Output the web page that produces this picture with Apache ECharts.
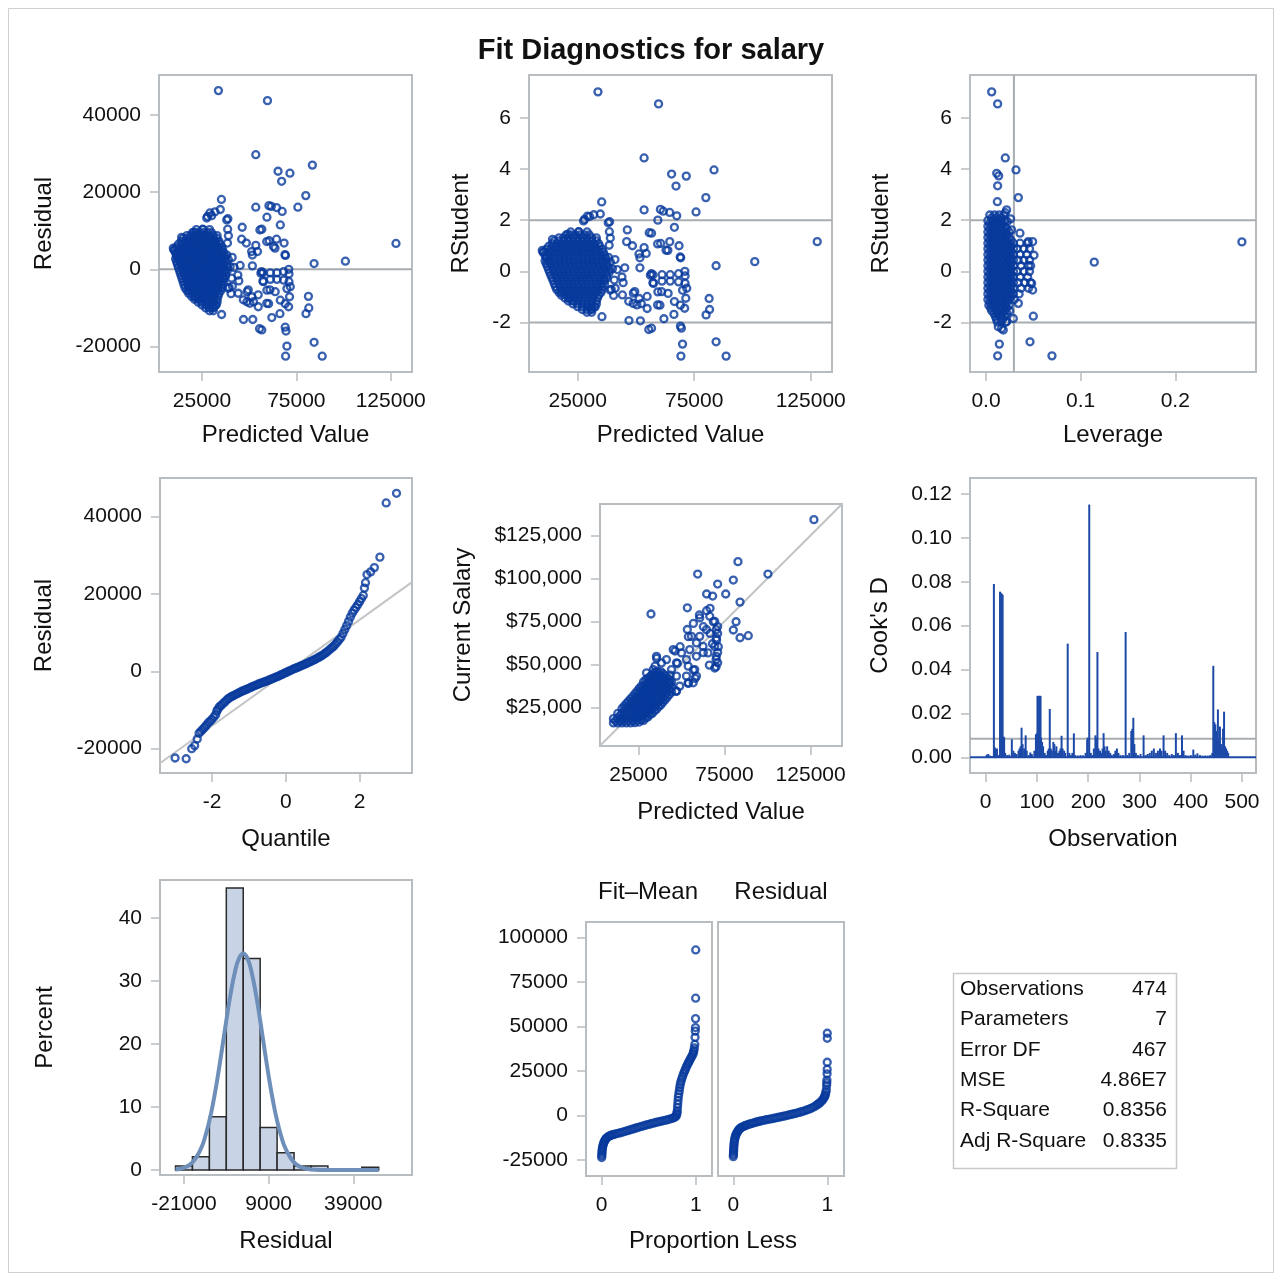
<!DOCTYPE html>
<html>
<head>
<meta charset="utf-8">
<script src="https://cdn.jsdelivr.net/npm/echarts@6/dist/echarts.min.js"></script>
<style>
html, body { margin: 0; padding: 0; background: #fff; }
#chart { width: 1282px; height: 1281px; }
</style>
</head>
<body>
<div id="chart"></div>
<script>
// ---- data ----
// residual / rstudent by predicted value: [predicted, residual, rstudent]
var fitOutliers = [
  [33700,46300,7.01],[59700,43700,6.54],[53500,29700,4.43],[65300,25400,3.80],[71600,24900,3.72],
  [67200,22800,3.33],[83500,27000,3.96],[80000,19100,2.88],[75800,16100,2.32],[53500,16100,2.40],
  [60500,16500,2.42],[61700,16300,2.35],[64500,16000,2.30],[67500,15000,2.17],[59400,13500,2.00],
  [66500,11500,1.72],[56700,10400,1.49],[46300,10900,1.62],[46000,7800,1.16],[48500,6800,1.00],
  [53500,6200,0.93],[54400,4600,0.70],[60600,7400,1.09],[64500,7800,1.16],[62900,5900,0.83],
  [68500,6800,1.00],[69200,3600,0.53],[84400,1500,0.22],[101000,2100,0.38],[127800,6700,1.16],
  [45200,1000,0.14],[51700,900,0.14],[51700,3700,0.53],[35300,18100,2.71],[34700,15500,2.24],
  [30100,13900,2.14],[27900,13700,2.03],[38700,13100,1.94],[38600,10400,1.55],[39000,8700,1.30],
  [38500,6800,1.02],[38200,3700,0.55],[41000,3100,0.46],[39900,700,0.10],[36300,-2300,-0.34],
  [39400,-4700,-0.70],[41100,-4400,-0.66],[40400,-6300,-0.94],[35400,-11700,-1.77],[32100,-9300,-1.40],
  [30700,-9900,-1.48],[23000,-7600,-1.14],[14200,8300,1.25],[10100,5000,0.75],[11500,3700,0.56],
  [20700,9600,1.44],[25400,10400,1.55],[44500,-3000,-0.44],[48900,-5800,-0.85],[51400,-7100,-1.06],
  [52300,-8400,-1.26],[54800,-9700,-1.45],[48800,-8400,-1.25],[56200,-1000,-0.15],[57300,-900,-0.13],
  [61200,-900,-0.13],[64700,-900,-0.13],[68300,-600,-0.09],[71100,-1200,-0.18],[57300,-3000,-0.44],
  [61200,-2600,-0.38],[64700,-2600,-0.38],[68300,-2800,-0.41],[71100,-3200,-0.47],[59400,-5400,-0.80],
  [63800,-5800,-0.86],[70000,-5000,-0.74],[71800,-4500,-0.66],[71400,-7100,-1.05],[66500,-8000,-1.18],
  [69100,-8900,-1.32],[70900,-9700,-1.44],[60300,-8900,-1.32],[47000,-13000,-1.92],[51900,-13000,-1.93],
  [55500,-15400,-2.27],[56700,-15700,-2.22],[62000,-12500,-1.85],[66300,-11500,-1.68],[69100,-15000,-2.14],
  [69500,-16000,-2.22],[70000,-19900,-2.84],[69300,-22500,-3.31],[81400,-7000,-1.06],[81600,-10000,-1.49],
  [80100,-11500,-1.70],[84400,-18900,-2.75],[88700,-22500,-3.31],[71000,0,0.00],[51300,4600,0.68],
  [39000,2500,0.37],[40700,-2300,-0.34],[38900,-4900,-0.73],[44200,-6200,-0.92],[49500,-5300,-0.79],
  [54800,-6600,-0.98],[50400,-8800,-1.31],[46900,-7900,-1.17],[59300,-8800,-1.31],[61000,-5300,-0.79],
  [57500,-3200,-0.47],[55700,10200,1.51],[59300,7200,1.07],[63700,5500,0.82],[69000,3800,0.56],
  [56600,-600,-0.09],[42000,500,0.07],[44000,-1500,-0.22],[29200,14600,2.16],[31900,14900,2.21],
  [27500,13300,1.97],[38100,12800,1.90],[21300,-7200,-1.07],[18000,-5500,-0.82],[9800,5500,0.82],
  [12400,2600,0.39]
];
// dense cluster: [residual, rstudent, predicted values]
var fitClusterRows = [
  [10300, 1.54, [22000, 25500, 29000]],
  [9500, 1.42, [20000, 22000, 24000, 26000, 28000, 30000]],
  [8750, 1.31, [17000, 19000, 21000, 23000, 25000, 27000, 29000, 31000, 33000]],
  [8000, 1.19, [15000, 17000, 19000, 21000, 23000, 25000, 27000, 29000, 31000, 33000]],
  [7250, 1.08, [14000, 16000, 18000, 20000, 22000, 24000, 26000, 28000, 30000, 32000, 34000]],
  [6500, 0.97, [12500, 14500, 16500, 18500, 20500, 22500, 24500, 26500, 28500, 30500, 32500, 34500]],
  [5750, 0.86, [11500, 13500, 15500, 17500, 19500, 21500, 23500, 25500, 27500, 29500, 31500, 33500, 35500]],
  [5000, 0.75, [10500, 12500, 14500, 16500, 18500, 20500, 22500, 24500, 26500, 28500, 30500, 32500, 34500, 36000]],
  [4250, 0.63, [11000, 13000, 15000, 17000, 19000, 21000, 23000, 25000, 27000, 29000, 31000, 33000, 35000, 36500]],
  [3500, 0.52, [11500, 13500, 15500, 17500, 19500, 21500, 23500, 25500, 27500, 29500, 31500, 33500, 35500, 37000]],
  [2750, 0.41, [11000, 13000, 15000, 17000, 19000, 21000, 23000, 25000, 27000, 29000, 31000, 33000, 35000, 37000]],
  [2000, 0.30, [11500, 13500, 15500, 17500, 19500, 21500, 23500, 25500, 27500, 29500, 31500, 33500, 35500, 37500]],
  [1250, 0.19, [12000, 14000, 16000, 18000, 20000, 22000, 24000, 26000, 28000, 30000, 32000, 34000, 36000, 38000]],
  [500, 0.07, [12500, 14500, 16500, 18500, 20500, 22500, 24500, 26500, 28500, 30500, 32500, 34500, 36500, 38500]],
  [-250, -0.04, [13000, 15000, 17000, 19000, 21000, 23000, 25000, 27000, 29000, 31000, 33000, 35000, 37000, 38500]],
  [-1000, -0.15, [13500, 15500, 17500, 19500, 21500, 23500, 25500, 27500, 29500, 31500, 33500, 35500, 37500]],
  [-1750, -0.26, [14000, 16000, 18000, 20000, 22000, 24000, 26000, 28000, 30000, 32000, 34000, 36000, 37500]],
  [-2500, -0.37, [14500, 16500, 18500, 20500, 22500, 24500, 26500, 28500, 30500, 32500, 34500, 36500]],
  [-3250, -0.49, [15000, 17000, 19000, 21000, 23000, 25000, 27000, 29000, 31000, 33000, 35000, 36500]],
  [-4000, -0.60, [15500, 17500, 19500, 21500, 23500, 25500, 27500, 29500, 31500, 33500, 35500]],
  [-4750, -0.71, [16000, 18000, 20000, 22000, 24000, 26000, 28000, 30000, 32000, 34000, 35500]],
  [-5500, -0.82, [17000, 19000, 21000, 23000, 25000, 27000, 29000, 31000, 33000, 35000]],
  [-6250, -0.93, [18000, 20000, 22000, 24000, 26000, 28000, 30000, 32000, 34000]],
  [-7000, -1.04, [19500, 21500, 23500, 25500, 27500, 29500, 31500, 33500]],
  [-7750, -1.16, [21000, 23000, 25000, 27000, 29000, 31000, 33000]],
  [-8500, -1.27, [23000, 25000, 27000, 29000, 31000, 33000]],
  [-9250, -1.38, [25000, 27000, 29000, 31000, 32500]],
  [-10000, -1.49, [27000, 29000, 31000]],
  [-10750, -1.60, [29000, 31000]]
];

// rstudent by leverage: [leverage, rstudent]
var levOutliers = [
  [0.0060,7.01],[0.0123,6.54],[0.0204,4.43],[0.0317,3.96],[0.0113,3.83],[0.0134,3.73],[0.0123,3.34],
  [0.0342,2.88],[0.0120,2.72],[0.0218,2.40],[0.0204,2.29],[0.0271,1.62],[0.0359,1.49],[0.0447,1.16],
  [0.0493,1.16],[0.0507,0.63],[0.0472,0.22],[0.1144,0.36],[0.2704,1.15],[0.0482,-0.47],[0.0493,-0.73],
  [0.0342,-1.25],[0.0500,-1.75],[0.0120,-1.64],[0.0130,-2.16],[0.0165,-2.23],[0.0183,-2.29],
  [0.0218,-1.97],[0.0289,-1.84],[0.0141,-2.84],[0.0123,-3.30],[0.0465,-2.75],[0.0697,-3.30],
  [0.0260,2.05],[0.0225,1.95]
];
// dense column: [rstudent, leverage values]
var levClusterRows = [
  [2.20, [0.004, 0.009, 0.014, 0.019]],
  [2.09, [0.006, 0.011, 0.016]],
  [1.98, [0.002, 0.0065, 0.011, 0.0155, 0.020]],
  [1.87, [0.004, 0.0085, 0.013, 0.0175]],
  [1.76, [0.002, 0.0065, 0.011, 0.0155, 0.020]],
  [1.65, [0.004, 0.0085, 0.013, 0.0175, 0.022]],
  [1.54, [0.002, 0.0065, 0.011, 0.0155, 0.020, 0.0245]],
  [1.43, [0.004, 0.0085, 0.013, 0.0175, 0.022]],
  [1.32, [0.002, 0.0065, 0.011, 0.0155, 0.020, 0.0245]],
  [1.21, [0.004, 0.0085, 0.013, 0.0175, 0.022, 0.0265]],
  [1.10, [0.002, 0.0065, 0.011, 0.0155, 0.020, 0.0245, 0.029, 0.036, 0.044]],
  [0.99, [0.004, 0.0085, 0.013, 0.0175, 0.022, 0.0265]],
  [0.88, [0.002, 0.0065, 0.011, 0.0155, 0.020, 0.0245, 0.029, 0.033, 0.040, 0.046]],
  [0.77, [0.004, 0.0085, 0.013, 0.0175, 0.022, 0.0265]],
  [0.66, [0.002, 0.0065, 0.011, 0.0155, 0.020, 0.0245, 0.029, 0.036, 0.043]],
  [0.55, [0.004, 0.0085, 0.013, 0.0175, 0.022, 0.0265]],
  [0.44, [0.002, 0.0065, 0.011, 0.0155, 0.020, 0.0245, 0.029, 0.034, 0.040, 0.046]],
  [0.33, [0.004, 0.0085, 0.013, 0.0175, 0.022, 0.0265]],
  [0.22, [0.002, 0.0065, 0.011, 0.0155, 0.020, 0.0245, 0.029, 0.037, 0.045]],
  [0.11, [0.004, 0.0085, 0.013, 0.0175, 0.022, 0.0265]],
  [0.00, [0.002, 0.0065, 0.011, 0.0155, 0.020, 0.0245, 0.029, 0.033, 0.040, 0.046]],
  [-0.11, [0.004, 0.0085, 0.013, 0.0175, 0.022, 0.0265]],
  [-0.22, [0.002, 0.0065, 0.011, 0.0155, 0.020, 0.0245, 0.029, 0.036, 0.044]],
  [-0.33, [0.004, 0.0085, 0.013, 0.0175, 0.022, 0.0265]],
  [-0.44, [0.002, 0.0065, 0.011, 0.0155, 0.020, 0.0245, 0.029, 0.034, 0.041, 0.047]],
  [-0.55, [0.004, 0.0085, 0.013, 0.0175, 0.022, 0.0265]],
  [-0.66, [0.002, 0.0065, 0.011, 0.0155, 0.020, 0.0245, 0.029, 0.037, 0.045]],
  [-0.77, [0.004, 0.0085, 0.013, 0.0175, 0.022, 0.0265]],
  [-0.88, [0.002, 0.0065, 0.011, 0.0155, 0.020, 0.0245, 0.029, 0.035]],
  [-0.99, [0.004, 0.0085, 0.013, 0.0175, 0.022, 0.0265]],
  [-1.10, [0.002, 0.0065, 0.011, 0.0155, 0.020, 0.0245, 0.030]],
  [-1.21, [0.004, 0.0085, 0.013, 0.0175, 0.022]],
  [-1.32, [0.003, 0.0065, 0.011, 0.0155, 0.020, 0.0245]],
  [-1.43, [0.005, 0.0085, 0.013, 0.0175, 0.022]],
  [-1.54, [0.006, 0.011, 0.0155, 0.020, 0.025]],
  [-1.65, [0.0085, 0.013, 0.0175, 0.022]],
  [-1.76, [0.010, 0.0155, 0.020]],
  [-1.87, [0.011, 0.0175]],
  [-1.98, [0.012, 0.016, 0.021]]
];
var leverageCutoff = 0.0295;
var rstudentLimits = [-2, 2];

// residual quantile plot: [quantile, residual]
var qqPoints = [
  [-3.0,-22400],[-2.7,-22600],[-2.55,-20000],[-2.47,-19200],[-2.4,-17500],[-2.35,-16000],[-2.3,-15500],
  [-2.25,-15000],[-2.2,-14500],[-2.15,-13900],[-2.1,-13300],[-2.05,-12900],[-2.0,-12400],[-1.95,-11800],
  [-1.9,-11200],[-1.87,-10300],[-1.84,-9800],[-1.8,-9200],[-1.75,-8800],[-1.7,-8300],[-1.65,-7900],
  [-1.6,-7400],[-1.55,-7000],[-1.5,-6700],[-1.45,-6450],[-1.4,-6200],[-1.35,-5950],[-1.3,-5700],
  [-1.25,-5450],[-1.2,-5200],[-1.15,-5000],[-1.1,-4800],[-1.05,-4600],[-1.0,-4400],[-0.95,-4170],
  [-0.9,-3950],[-0.85,-3750],[-0.8,-3550],[-0.75,-3350],[-0.7,-3150],[-0.65,-2970],[-0.6,-2800],
  [-0.55,-2620],[-0.5,-2450],[-0.45,-2250],[-0.4,-2050],[-0.35,-1850],[-0.3,-1650],[-0.25,-1450],
  [-0.2,-1250],[-0.15,-1020],[-0.1,-800],[-0.05,-570],[0,-350],[0.05,-120],[0.1,100],[0.15,320],
  [0.2,550],[0.25,750],[0.3,950],[0.35,1150],[0.4,1350],[0.45,1550],[0.5,1750],[0.55,1970],[0.6,2200],
  [0.65,2420],[0.7,2650],[0.75,2870],[0.8,3100],[0.85,3370],[0.9,3650],[0.95,3920],[1.0,4200],
  [1.05,4550],[1.1,4900],[1.15,5300],[1.2,5700],[1.25,6100],[1.3,6500],[1.35,7050],[1.4,7600],
  [1.45,8200],[1.5,8800],[1.55,9800],[1.6,10800],[1.65,11800],[1.7,12900],[1.75,14000],[1.8,15000],
  [1.85,15800],[1.9,16500],[1.95,17200],[2.0,18000],[2.05,18800],[2.1,19600],[2.13,21500],[2.16,22900],
  [2.2,25000],[2.3,25700],[2.4,26800],[2.55,29500],[2.72,43500],[3.0,46000]
];
var qqLine = [[-3.41, -23760], [3.42, 23030]];

// current salary by predicted value: [predicted, salary]
var salaryOutliers = [
  [126900,134100],[82800,109700],[59400,102500],[100200,102500],[71000,96700],[80100,99000],
  [64600,90900],[68100,89700],[75700,90900],[84000,86200],[53400,82900],[32300,79300],
  [81700,74800],[80100,70000],[84000,65500],[88800,66700],[53400,70300],[46900,34500],
  [57900,41900],[46300,57800],[35600,53500],[70100,48600],[70100,52900],[66200,49600],
  [62700,56800],[60400,78700],[64600,81200],[66600,82600],[68500,74800],[56900,73800],
  [62700,71900],[66600,68000],[70400,64100],[71400,60300],[54000,66100],[49200,60300],
  [47600,50600],[56900,46700],[54000,39000],[43400,43800],[39500,39000],[34700,49000],
  [60600,77000],[66400,78000],[69300,75000],[70200,70200],[70200,65300],[69300,60500],
  [70200,54700],[69300,47900],[64500,70200],[60600,66300],[58700,62500],[55800,66300],
  [62500,60500],[65400,56700],[58700,54700],[54800,58600],[52900,52800],[50000,56700],
  [47100,50900],[45200,58600],[53900,49000],[57700,47000],[58700,43200],[52900,43200],
  [47100,43200],[44200,47000],[41300,52800],[35500,54700],[38400,50900],[47100,34400],
  [53900,39300],[56800,39300],[49000,37400],[43200,39300],[37400,43200],[33600,47000],
  [29700,45100],[71000,72000],[71000,68000],[71000,57000],[68000,62000],[71000,51000]
];
// dense band: [predicted, salary values]
var salaryClusterCols = [
  [10500, [16000, 18500]],
  [11750, [17200]],
  [13000, [16000, 18800, 21500]],
  [14250, [17400, 20200]],
  [15500, [16000, 18800, 21600, 24400]],
  [16750, [17400, 20200, 23000, 25800]],
  [18000, [16000, 18800, 21600, 24400, 27200]],
  [19250, [17400, 20200, 23000, 25800, 28600]],
  [20500, [16000, 18800, 21600, 24400, 27200, 30000]],
  [21750, [17400, 20200, 23000, 25800, 28600, 31400]],
  [23000, [16200, 19000, 21800, 24600, 27400, 30200, 33000]],
  [24250, [17600, 20400, 23200, 26000, 28800, 31600, 34400]],
  [25500, [16500, 19300, 22100, 24900, 27700, 30500, 33300, 36100]],
  [26750, [17900, 20700, 23500, 26300, 29100, 31900, 34700, 37500]],
  [28000, [17500, 20300, 23100, 25900, 28700, 31500, 34300, 37100, 39900]],
  [29250, [18900, 21700, 24500, 27300, 30100, 32900, 35700, 38500, 41000]],
  [30500, [19500, 22300, 25100, 27900, 30700, 33500, 36300, 39100, 41900]],
  [31750, [20900, 23700, 26500, 29300, 32100, 34900, 37700, 40500, 43000]],
  [33000, [21500, 24300, 27100, 29900, 32700, 35500, 38300, 41100, 43900]],
  [34250, [22900, 25700, 28500, 31300, 34100, 36900, 39700, 42500, 45000]],
  [35500, [24000, 26800, 29600, 32400, 35200, 38000, 40800, 43600, 46000]],
  [36750, [25400, 28200, 31000, 33800, 36600, 39400, 42200, 45000]],
  [38000, [26500, 29300, 32100, 34900, 37700, 40500, 43300, 45800]],
  [39250, [28000, 30800, 33600, 36400, 39200, 42000, 44600]],
  [40500, [29500, 32300, 35100, 37900, 40700, 43500]],
  [41750, [31000, 33800, 36600, 39400, 42200]],
  [43000, [32500, 35300, 38100, 41000]],
  [44250, [34000, 36800, 39600]]
];

// Cook's D by observation: [observation, D]
var cookNeedles = [
  [2,0.0012],[5,0.0015],[8,0.0008],[12,0.0006],[16,0.079],[18,0.0045],[20,0.0035],[22,0.004],[25,0.001],
  [28,0.0755],[29,0.075],[30,0.0748],[31,0.0745],[32,0.0742],[33,0.0740],[35,0.0094],[36,0.009],[38,0.002],
  [42,0.001],[46,0.0012],[51,0.0082],[54,0.003],[57,0.002],[60,0.0015],[64,0.003],[66,0.004],[68,0.005],
  [70,0.0135],[72,0.006],[75,0.004],[78,0.0100],[80,0.003],[84,0.001],[87,0.0022],[90,0.0015],[95,0.003],
  [98,0.0105],[100,0.011],[101,0.028],[102,0.0278],[103,0.028],[104,0.0275],[105,0.028],[106,0.0276],
  [107,0.028],[108,0.009],[110,0.007],[112,0.005],[115,0.002],[118,0.001],[121,0.003],[123,0.004],
  [125,0.022],[127,0.004],[129,0.003],[132,0.007],[134,0.006],[136,0.003],[138,0.005],[141,0.002],
  [144,0.003],[146,0.004],[148,0.0098],[150,0.004],[153,0.003],[155,0.002],[160,0.0518],[163,0.002],
  [166,0.001],[169,0.002],[172,0.0109],[175,0.001],[180,0.0008],[185,0.001],[190,0.0009],[195,0.002],
  [198,0.008],[199,0.009],[202,0.1152],[205,0.002],[208,0.001],[211,0.004],[214,0.0100],[216,0.009],
  [218,0.048],[220,0.004],[223,0.003],[226,0.002],[228,0.004],[230,0.011],[232,0.005],[234,0.003],
  [237,0.005],[240,0.003],[243,0.002],[246,0.001],[250,0.0015],[253,0.003],[256,0.004],[259,0.002],
  [263,0.001],[268,0.001],[273,0.0571],[276,0.001],[280,0.002],[284,0.012],[286,0.013],[288,0.018],
  [290,0.006],[293,0.002],[297,0.001],[302,0.0015],[308,0.0100],[312,0.001],[316,0.0015],[320,0.002],
  [324,0.003],[328,0.004],[332,0.002],[336,0.003],[340,0.004],[343,0.003],[347,0.0100],[350,0.003],
  [354,0.002],[358,0.001],[363,0.0015],[367,0.001],[371,0.0110],[375,0.002],[379,0.001],[383,0.0100],
  [386,0.003],[390,0.001],[395,0.0008],[400,0.001],[405,0.0035],[409,0.0012],[413,0.0018],[418,0.001],
  [423,0.0008],[428,0.0008],[433,0.0008],[438,0.001],[442,0.002],[444,0.0417],[446,0.016],[448,0.015],
  [450,0.012],[453,0.0218],[455,0.008],[457,0.014],[459,0.006],[461,0.004],[463,0.013],[465,0.0208],
  [467,0.005],[469,0.004],[471,0.003],[473,0.002]
];
var cookCutoff = 0.0084;

// residual histogram (percent) and fitted normal curve
var histBinWidth = 6000;
var histCenters = [-21000, -15000, -9000, -3000, 3000, 9000, 15000, 21000, 27000, 33000, 39000, 45000];
var histPercent = [0.63, 2.11, 8.44, 44.73, 33.54, 6.75, 2.74, 0.63, 0.63, 0, 0, 0.42];
var normalX = [-24000,-21000,-18000,-15000,-13500,-12000,-10500,-9000,-7500,-6000,-4500,-3000,-1500,0,
  1500,3000,4500,6000,7500,9000,10500,12000,13500,15000,18000,21000,24000,30000,36000,42000,48000];
var normalY = [0.09,0.37,1.22,3.39,5.27,7.81,11.04,14.92,19.25,23.71,27.88,31.30,33.55,34.34,
  33.55,31.30,27.88,23.71,19.25,14.92,11.04,7.81,5.27,3.39,1.22,0.37,0.09,0,0,0,0];

// residual-fit spread: [proportion less, value]
var fitMeanPoints = [
  [0,-23500],[0.001,-22500],[0.002,-21500],[0.003,-20500],[0.005,-19500],[0.007,-18500],[0.01,-17500],
  [0.015,-16500],[0.02,-15500],[0.027,-14600],[0.035,-13800],[0.042,-13200],[0.05,-12600],[0.065,-12000],
  [0.08,-11500],[0.095,-11100],[0.11,-10800],[0.13,-10500],[0.15,-10200],[0.175,-9900],[0.2,-9600],
  [0.225,-9200],[0.25,-8800],[0.275,-8400],[0.3,-8000],[0.325,-7600],[0.35,-7200],[0.375,-6800],
  [0.4,-6400],[0.425,-6000],[0.45,-5600],[0.475,-5250],[0.5,-4900],[0.525,-4550],[0.55,-4200],
  [0.575,-3850],[0.6,-3500],[0.625,-3200],[0.65,-2900],[0.675,-2600],[0.7,-2300],[0.725,-1900],
  [0.75,-1500],[0.765,-1200],[0.78,-800],[0.79,-300],[0.797,500],[0.8,1500],[0.803,2500],[0.806,4500],
  [0.809,6500],[0.812,8500],[0.815,10500],[0.82,12300],[0.825,14000],[0.83,15800],[0.835,17500],
  [0.842,19000],[0.85,20500],[0.86,22000],[0.87,23500],[0.88,24800],[0.89,26000],[0.9,27300],
  [0.91,28500],[0.92,29500],[0.93,30500],[0.94,31500],[0.95,32500],[0.96,33500],[0.97,34500],
  [0.975,35500],[0.98,36500],[0.985,38000],[0.99,40000],[0.993,44000],[0.995,47500],[0.997,49500],
  [0.998,54500],[0.999,66000],[1.0,93100]
];
var residPropPoints = [
  [0,-23000],[0.001,-22000],[0.002,-21000],[0.003,-20000],[0.004,-19000],[0.005,-17800],[0.007,-16500],
  [0.009,-15200],[0.012,-14000],[0.016,-13000],[0.02,-12000],[0.025,-11200],[0.03,-10500],[0.037,-9700],
  [0.045,-9000],[0.052,-8400],[0.06,-7800],[0.07,-7300],[0.08,-6800],[0.095,-6400],[0.11,-6000],
  [0.125,-5650],[0.14,-5300],[0.16,-4950],[0.18,-4600],[0.2,-4300],[0.22,-4000],[0.24,-3700],
  [0.26,-3400],[0.28,-3150],[0.3,-2900],[0.325,-2600],[0.35,-2300],[0.375,-2050],[0.4,-1800],
  [0.425,-1550],[0.45,-1300],[0.475,-1000],[0.5,-700],[0.525,-400],[0.55,-100],[0.575,200],[0.6,500],
  [0.625,800],[0.65,1100],[0.675,1450],[0.7,1800],[0.725,2200],[0.75,2600],[0.775,3050],[0.8,3500],
  [0.825,4100],[0.85,4700],[0.87,5300],[0.89,6000],[0.905,6600],[0.92,7200],[0.935,8000],[0.95,8800],
  [0.96,9600],[0.97,10500],[0.975,11200],[0.98,12000],[0.985,13200],[0.99,14500],[0.993,17000],
  [0.995,18500],[0.996,20000],[0.998,23500],[0.999,26000],[0.9995,30000],[0.9998,43500],[1.0,46300]
];

// fit statistics table
var statNames = ['Observations', 'Parameters', 'Error DF', 'MSE', 'R-Square', 'Adj R-Square'];
var statValues = ['474', '7', '467', '4.86E7', '0.8356', '0.8335'];

// tick labels
var predTicks = [25000, 75000, 125000];
var residTicks = [-20000, 0, 20000, 40000];
var rstudTicks = [-2, 0, 2, 4, 6];
var levTicks = [0, 0.1, 0.2];
var quantTicks = [-2, 0, 2];
var salaryTicks = [25000, 50000, 75000, 100000, 125000];
var obsTicks = [0, 100, 200, 300, 400, 500];
var cookTicks = [0, 0.02, 0.04, 0.06, 0.08, 0.10, 0.12];
var histXTicks = [-21000, 9000, 39000];
var percentTicks = [0, 10, 20, 30, 40];
var propTicks = [0, 1];
var spreadTicks = [-25000, 0, 25000, 50000, 75000, 100000];

// ---- build point lists ----
var residPts = [], rstudPts = [];
fitOutliers.forEach(function (o) { residPts.push([o[0], o[1]]); rstudPts.push([o[0], o[2]]); });
fitClusterRows.forEach(function (r) {
  r[2].forEach(function (p) { residPts.push([p, r[0]]); rstudPts.push([p, r[1]]); });
});
var levPts = levOutliers.slice();
levClusterRows.forEach(function (r) { r[1].forEach(function (h) { levPts.push([h, r[0]]); }); });
var salaryPts = salaryOutliers.slice();
salaryClusterCols.forEach(function (c) { c[1].forEach(function (s) { salaryPts.push([c[0], s]); }); });
var histData = histCenters.map(function (c, i) { return [c, histPercent[i]]; });
var normalData = normalX.map(function (x, i) { return [x, normalY[i]]; });

// ---- styling / layout ----
var FONT = '"Liberation Sans", Arial, Helvetica, sans-serif';
var TXT = '#111';
var FRAME = '#b8bdc1';
var REF = '#a7adb1';
var BLUE = '#08399c';
var NEEDLE = '#1d4aa8';

// [left, top, width, height, xmin, xmax, ymin, ymax]
var panels = [
  [159, 75, 253, 297, 2210, 136290, -26600, 50340],
  [529, 75, 303, 297, 4100, 134140, -3.93, 7.668],
  [970, 75, 286, 297, -0.0169, 0.2853, -3.93, 7.668],
  [160, 478, 252, 295, -3.409, 3.42, -26280, 49950],
  [600, 504, 242, 242, 2700, 143200, 2600, 143200],
  [970, 478, 286, 295, -30.6, 527.3, -0.00716, 0.1273],
  [160, 880, 252, 295, -29500, 59800, -0.79, 46.0],
  [586, 922, 126, 254, -0.167, 1.173, -33900, 108800],
  [718, 922, 126, 254, -0.163, 1.178, -33900, 108800]
];

function plain(v) { return String(v); }
function fixed(n) { return function (v) { return v.toFixed(n); }; }
function dollars(v) { return '$' + v.toLocaleString('en-US'); }

function axis(gi, dim, ticks, o) {
  o = o || {};
  var p = panels[gi];
  return {
    type: 'value', gridIndex: gi,
    min: dim === 'x' ? p[4] : p[6],
    max: dim === 'x' ? p[5] : p[7],
    splitLine: { show: false },
    axisLine: { show: false, onZero: false },
    axisTick: { show: !o.bare, customValues: ticks, length: 9, lineStyle: { color: FRAME, width: 1.5 } },
    axisLabel: {
      show: !o.bare, customValues: ticks, margin: dim === 'x' ? 19 : 18,
      fontSize: 21, fontFamily: FONT, color: TXT, formatter: o.fmt || plain
    },
    name: o.name || '', nameLocation: 'middle', nameGap: o.gap || 51,
    nameTextStyle: { fontSize: 24, fontFamily: FONT, color: TXT }
  };
}

function scatter(gi, data) {
  return {
    type: 'scatter', xAxisIndex: gi, yAxisIndex: gi, data: data, z: 3,
    symbol: 'circle', symbolSize: 7, silent: true,
    itemStyle: { color: 'rgba(0,0,0,0)', borderColor: BLUE, borderWidth: 2.3 }
  };
}

function refLine(gi, pts, color, width) {
  return {
    type: 'line', xAxisIndex: gi, yAxisIndex: gi, data: pts, z: 1,
    symbol: 'none', silent: true,
    lineStyle: { color: color || REF, width: width || 2 }
  };
}

function hLine(gi, y, color, width) {
  var p = panels[gi];
  return refLine(gi, [[p[4], y], [p[5], y]], color, width);
}
function vLine(gi, x, color, width) {
  var p = panels[gi];
  return refLine(gi, [[x, p[6]], [x, p[7]]], color, width);
}

var grids = panels.map(function (p) {
  return {
    left: p[0], top: p[1], width: p[2], height: p[3],
    show: true, borderColor: FRAME, borderWidth: 2, backgroundColor: '#fff',
    containLabel: false, outerBoundsMode: 'none'
  };
});

var xAxes = [
  axis(0, 'x', predTicks, { name: 'Predicted Value' }),
  axis(1, 'x', predTicks, { name: 'Predicted Value' }),
  axis(2, 'x', levTicks, { name: 'Leverage', fmt: fixed(1) }),
  axis(3, 'x', quantTicks, { name: 'Quantile', gap: 54 }),
  axis(4, 'x', predTicks, { name: 'Predicted Value', gap: 54 }),
  axis(5, 'x', obsTicks, { name: 'Observation', gap: 54 }),
  axis(6, 'x', histXTicks, { name: 'Residual', gap: 54 }),
  axis(7, 'x', propTicks),
  axis(8, 'x', propTicks)
];
var yAxes = [
  axis(0, 'y', residTicks, { name: 'Residual', gap: 103 }),
  axis(1, 'y', rstudTicks, { name: 'RStudent', gap: 56 }),
  axis(2, 'y', rstudTicks, { name: 'RStudent', gap: 77 }),
  axis(3, 'y', residTicks, { name: 'Residual', gap: 104 }),
  axis(4, 'y', salaryTicks, { name: 'Current Salary', gap: 125, fmt: dollars }),
  axis(5, 'y', cookTicks, { name: "Cook's D", gap: 78, fmt: fixed(2) }),
  axis(6, 'y', percentTicks, { name: 'Percent', gap: 103 }),
  axis(7, 'y', spreadTicks),
  axis(8, 'y', spreadTicks, { bare: true })
];

var series = [
  hLine(0, 0),
  scatter(0, residPts),
  hLine(1, rstudentLimits[0]), hLine(1, rstudentLimits[1]),
  scatter(1, rstudPts),
  hLine(2, rstudentLimits[0]), hLine(2, rstudentLimits[1]), vLine(2, leverageCutoff),
  scatter(2, levPts),
  refLine(3, qqLine, '#c2c4c6', 2),
  scatter(3, qqPoints),
  refLine(4, [[panels[4][4], panels[4][4]], [panels[4][5], panels[4][5]]], '#c2c4c6', 2),
  scatter(4, salaryPts),
  {
    type: 'custom', xAxisIndex: 5, yAxisIndex: 5, data: cookNeedles, z: 2, silent: true,
    encode: { x: 0, y: 1 },
    renderItem: function (params, api) {
      var a = api.coord([api.value(0), 0]);
      var b = api.coord([api.value(0), api.value(1)]);
      return { type: 'line', shape: { x1: a[0], y1: a[1], x2: b[0], y2: b[1] },
        style: { stroke: NEEDLE, lineWidth: 2 } };
    }
  },
  hLine(5, cookCutoff, REF, 2),
  hLine(5, 0, NEEDLE, 2),
  {
    type: 'custom', xAxisIndex: 6, yAxisIndex: 6, data: histData, z: 2, silent: true,
    encode: { x: 0, y: 1 },
    renderItem: function (params, api) {
      var c = api.value(0), h = api.value(1);
      if (!h) return null;
      var a = api.coord([c - histBinWidth / 2, h]);
      var b = api.coord([c + histBinWidth / 2, 0]);
      return { type: 'rect', shape: { x: a[0], y: a[1], width: b[0] - a[0], height: b[1] - a[1] },
        style: { fill: '#c8d4e5', stroke: '#2a2a2a', lineWidth: 1.5 } };
    }
  },
  {
    type: 'line', xAxisIndex: 6, yAxisIndex: 6, data: normalData, z: 4, smooth: true,
    symbol: 'none', silent: true, lineStyle: { color: '#6f8fbb', width: 4 }
  },
  scatter(7, fitMeanPoints),
  scatter(8, residPropPoints)
];

var graphics = [
  { type: 'rect', shape: { x: 8.5, y: 8.5, width: 1265, height: 1264 }, silent: true,
    style: { fill: 'none', stroke: '#cfcfcf', lineWidth: 1 }, z: -10 },
  { type: 'text', x: 648, y: 892, silent: true,
    style: { text: 'Fit\u2013Mean', fontSize: 24, fontFamily: FONT, fill: TXT, textAlign: 'center', textVerticalAlign: 'middle' } },
  { type: 'text', x: 781, y: 892, silent: true,
    style: { text: 'Residual', fontSize: 24, fontFamily: FONT, fill: TXT, textAlign: 'center', textVerticalAlign: 'middle' } },
  { type: 'text', x: 713, y: 1241, silent: true,
    style: { text: 'Proportion Less', fontSize: 24, fontFamily: FONT, fill: TXT, textAlign: 'center', textVerticalAlign: 'middle' } },
  { type: 'rect', shape: { x: 953.5, y: 973.5, width: 223, height: 195 }, silent: true,
    style: { fill: '#fff', stroke: '#c9c9c9', lineWidth: 1.5 } }
];
statNames.forEach(function (n, i) {
  var y = 989 + i * 30.4;
  graphics.push({ type: 'text', x: 960, y: y, silent: true,
    style: { text: n, fontSize: 21, fontFamily: FONT, fill: TXT, textAlign: 'left', textVerticalAlign: 'middle' } });
  graphics.push({ type: 'text', x: 1167, y: y, silent: true,
    style: { text: statValues[i], fontSize: 21, fontFamily: FONT, fill: TXT, textAlign: 'right', textVerticalAlign: 'middle' } });
});

var myChart = echarts.init(document.getElementById('chart'), null, { renderer: 'canvas' });
myChart.setOption({
  backgroundColor: '#fff',
  animation: false,
  title: {
    text: 'Fit Diagnostics for salary', left: 646, top: 31, textAlign: 'center',
    textStyle: { fontSize: 29, fontWeight: 'bold', fontFamily: FONT, color: '#111' }
  },
  grid: grids,
  xAxis: xAxes,
  yAxis: yAxes,
  series: series,
  graphic: graphics
});
</script>
</body>
</html>
